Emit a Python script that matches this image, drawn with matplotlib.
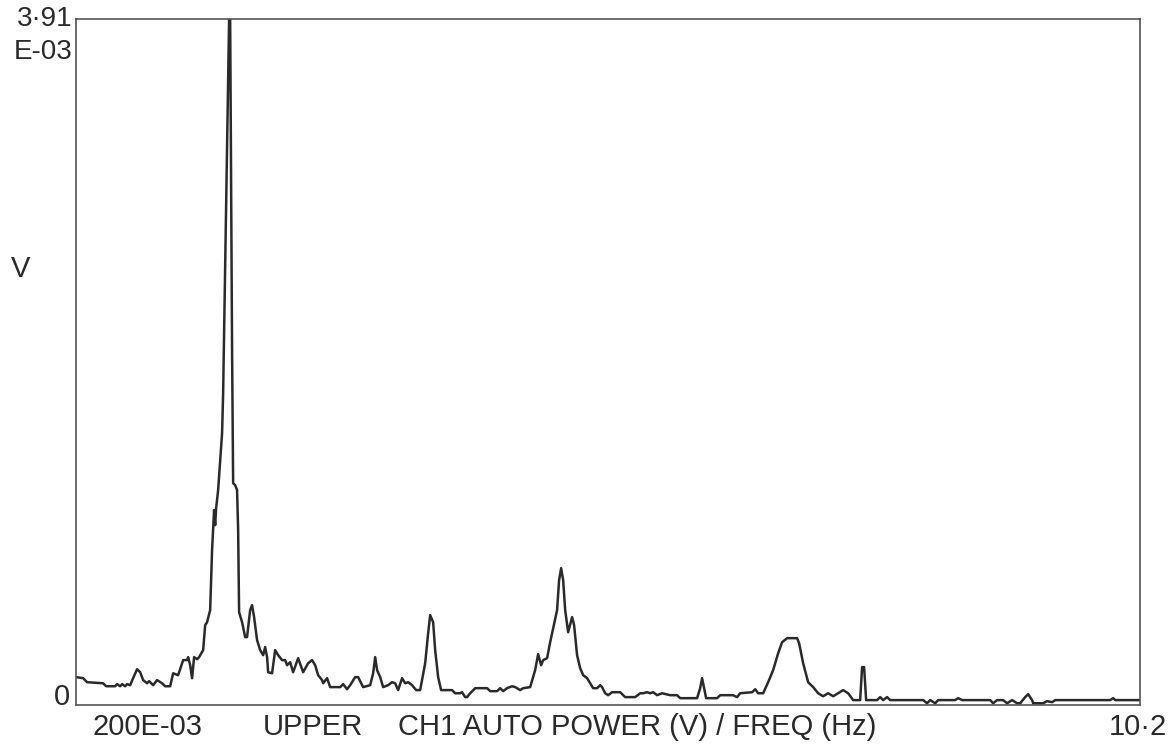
import matplotlib
matplotlib.use("Agg")
import matplotlib.pyplot as plt

# CH1 auto power spectrum
freq_hz = [
    0.200, 0.266, 0.303, 0.454, 0.482, 0.567, 0.585, 0.614, 0.632, 0.661,
    0.679, 0.708, 0.736, 0.773, 0.802, 0.830, 0.867, 0.886, 0.924, 0.961,
    1.008, 1.037, 1.084, 1.112, 1.159, 1.206, 1.243, 1.253, 1.272, 1.290,
    1.309, 1.337, 1.356, 1.394, 1.413, 1.431, 1.460, 1.478, 1.497, 1.507,
    1.516, 1.535, 1.572, 1.582, 1.638, 1.648, 1.666, 1.676, 1.695, 1.713,
    1.723, 1.732, 1.760, 1.789, 1.807, 1.836, 1.854, 1.873, 1.901, 1.930,
    1.958, 1.977, 1.995, 2.005, 2.042, 2.071, 2.099, 2.136, 2.165, 2.183,
    2.212, 2.240, 2.287, 2.334, 2.381, 2.418, 2.447, 2.475, 2.512, 2.522,
    2.559, 2.588, 2.682, 2.710, 2.747, 2.776, 2.823, 2.851, 2.898, 2.964,
    2.992, 3.011, 3.029, 3.058, 3.086, 3.133, 3.170, 3.199, 3.227, 3.264,
    3.293, 3.321, 3.358, 3.396, 3.434, 3.481, 3.509, 3.528, 3.556, 3.575,
    3.603, 3.631, 3.734, 3.763, 3.810, 3.828, 3.857, 3.875, 3.904, 3.951,
    4.063, 4.092, 4.157, 4.186, 4.214, 4.251, 4.298, 4.327, 4.374, 4.402,
    4.468, 4.515, 4.543, 4.571, 4.590, 4.627, 4.656, 4.684, 4.721, 4.740,
    4.759, 4.778, 4.797, 4.825, 4.862, 4.881, 4.909, 4.938, 4.966, 5.003,
    5.032, 5.060, 5.097, 5.126, 5.144, 5.173, 5.201, 5.238, 5.314, 5.361,
    5.455, 5.502, 5.530, 5.567, 5.596, 5.624, 5.661, 5.708, 5.784, 5.849,
    5.878, 6.037, 6.066, 6.084, 6.103, 6.122, 6.225, 6.254, 6.376, 6.413,
    6.442, 6.554, 6.583, 6.611, 6.658, 6.705, 6.752, 6.799, 6.836, 6.883,
    6.977, 6.996, 7.034, 7.081, 7.128, 7.175, 7.222, 7.269, 7.316, 7.363,
    7.410, 7.457, 7.504, 7.570, 7.588, 7.607, 7.626, 7.729, 7.758, 7.786,
    7.823, 7.852, 8.162, 8.199, 8.228, 8.275, 8.303, 8.463, 8.491, 8.528,
    8.792, 8.820, 8.857, 8.914, 8.951, 8.998, 9.045, 9.074, 9.121, 9.149,
    9.186, 9.196, 9.290, 9.327, 9.374, 9.403, 9.920, 9.948, 9.967, 10.200,
]
power_mv = [
    0.160, 0.154, 0.131, 0.125, 0.108, 0.108, 0.120, 0.108, 0.120, 0.108,
    0.120, 0.114, 0.154, 0.205, 0.188, 0.143, 0.125, 0.137, 0.114, 0.143,
    0.125, 0.108, 0.108, 0.182, 0.171, 0.257, 0.257, 0.274, 0.228, 0.154,
    0.274, 0.262, 0.274, 0.314, 0.456, 0.473, 0.542, 0.884, 1.112, 1.026,
    1.123, 1.226, 1.550, 1.778, 3.910, 3.910, 2.024, 1.265, 1.254, 1.226,
    0.998, 0.530, 0.473, 0.388, 0.388, 0.542, 0.570, 0.502, 0.371, 0.314,
    0.285, 0.331, 0.274, 0.188, 0.182, 0.314, 0.285, 0.257, 0.257, 0.228,
    0.245, 0.188, 0.268, 0.188, 0.239, 0.257, 0.228, 0.171, 0.143, 0.125,
    0.154, 0.103, 0.103, 0.120, 0.091, 0.114, 0.160, 0.160, 0.103, 0.114,
    0.182, 0.274, 0.200, 0.160, 0.103, 0.114, 0.131, 0.125, 0.086, 0.154,
    0.125, 0.131, 0.114, 0.086, 0.086, 0.239, 0.410, 0.513, 0.473, 0.314,
    0.160, 0.086, 0.086, 0.068, 0.068, 0.074, 0.046, 0.046, 0.068, 0.097,
    0.097, 0.080, 0.080, 0.097, 0.080, 0.097, 0.108, 0.103, 0.086, 0.097,
    0.103, 0.200, 0.291, 0.228, 0.257, 0.268, 0.359, 0.439, 0.542, 0.713,
    0.781, 0.713, 0.542, 0.416, 0.502, 0.456, 0.285, 0.211, 0.171, 0.154,
    0.125, 0.097, 0.097, 0.114, 0.103, 0.068, 0.057, 0.074, 0.074, 0.046,
    0.046, 0.068, 0.068, 0.074, 0.068, 0.074, 0.057, 0.068, 0.057, 0.057,
    0.040, 0.040, 0.097, 0.154, 0.097, 0.040, 0.040, 0.057, 0.057, 0.046,
    0.068, 0.074, 0.091, 0.068, 0.068, 0.131, 0.200, 0.296, 0.359, 0.382,
    0.382, 0.353, 0.239, 0.131, 0.103, 0.068, 0.051, 0.068, 0.051, 0.068,
    0.086, 0.068, 0.029, 0.029, 0.217, 0.217, 0.029, 0.029, 0.046, 0.029,
    0.046, 0.029, 0.029, 0.011, 0.029, 0.011, 0.029, 0.029, 0.040, 0.029,
    0.029, 0.011, 0.029, 0.029, 0.011, 0.029, 0.011, 0.011, 0.046, 0.063,
    0.029, 0.011, 0.011, 0.023, 0.017, 0.029, 0.029, 0.040, 0.029, 0.029,
]

f_start, f_stop = 0.2, 10.2
full_scale = 3.91  # mV

plt.rcParams['font.family'] = ['Liberation Sans', 'DejaVu Sans']

fig = plt.figure(figsize=(11.71, 7.51), dpi=100)
ax = fig.add_axes([0.065, 0.061, 0.9085, 0.9135])
ax.plot(freq_hz, power_mv, color='#2a2a2a', linewidth=1.8)
ax.set_xlim(f_start, f_stop)
ax.set_ylim(0, full_scale)
ax.set_xticks([])
ax.set_yticks([])
for s in ax.spines.values():
    s.set_color('#555555')
    s.set_linewidth(1.2)

ink = '#2a2a2a'
fig.text(0.0615, 0.9747, "3·91", ha='right', va='center', fontsize=20, color=ink)
fig.text(0.0615, 0.9308, "E-03", ha='right', va='center', fontsize=20, color=ink)
fig.text(0.009, 0.642, "V", ha='left', va='center', fontsize=21, color=ink)
fig.text(0.0598, 0.072, "0", ha='right', va='center', fontsize=21, color=ink)
fig.text(0.0786, 0.032, "200E-03", ha='left', va='center', fontsize=21, color=ink)
fig.text(0.2246, 0.032, "UPPER", ha='left', va='center', fontsize=21, color=ink)
fig.text(0.340, 0.032, "CH1 AUTO POWER (V) / FREQ (Hz)", ha='left', va='center', fontsize=21, color=ink)
fig.text(0.9966, 0.032, "10·2", ha='right', va='center', fontsize=21, color=ink)

fig.savefig("out.png", dpi=100)
